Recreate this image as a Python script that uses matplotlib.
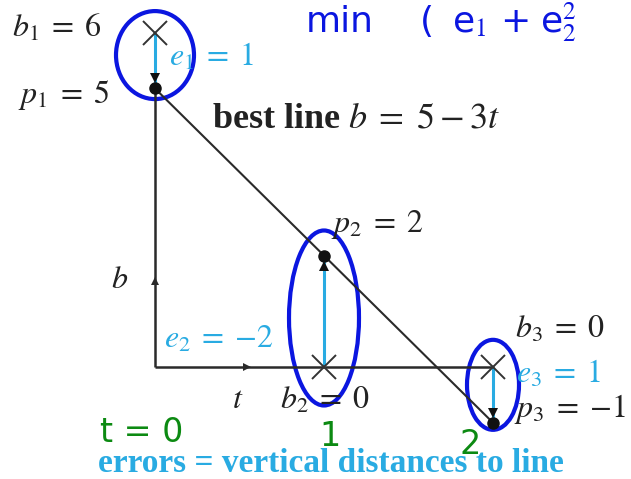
import matplotlib
matplotlib.use("Agg")
import matplotlib.pyplot as plt
from matplotlib.patches import Ellipse

# Three measurements b_i at times t_i and their projections p_i onto the best line
t = [0, 1, 2]
b = [6, 0, 0]
p = [5, 2, -1]
e = [1, -2, 1]
C, D = 5, -3          # best line b = C + D t
step_labels = ["t = 0", "1", "2"]

plt.rcParams["mathtext.fontset"] = "stix"
plt.rcParams["font.family"] = ["Liberation Serif", "DejaVu Serif"]

W, H = 631, 479
SX, SY = 169.0, 55.7          # pixels per unit of t and b
OX, OY = 155.0, 367.0         # pixel position of the origin

fig = plt.figure(figsize=(W / 100, H / 100), dpi=100)
ax = fig.add_axes([0, 0, 1, 1])
ax.set_xlim(-OX / SX, (W - OX) / SX)
ax.set_ylim(-(H - OY) / SY, OY / SY)
ax.axis("off")

dark = "#2a2a2a"
text_c = "#222222"
cyan = "#29abe2"
ink_blue = "#0b16e0"
ink_green = "#0c8a12"
fs = 23


def pix(x, y):
    """pixel position (from top-left) to data coordinates"""
    return (x - OX) / SX, (OY - y) / SY


def eq(name, val):
    return rf"${name} \;=\; {{{val}}}$"


# axes of the t-b plane
ax.plot([0, 0], [0, p[0]], color=dark, lw=1.8, solid_capstyle="butt")
ax.plot([0, t[-1]], [0, 0], color=dark, lw=1.8, solid_capstyle="butt")
ax.plot(*pix(155, 281), marker="^", color=dark, ms=6, mew=0)
ax.plot(*pix(247, 367), marker=">", color=dark, ms=6, mew=0)

# best line
tt = [t[0], t[-1]]
ax.plot(tt, [C + D * x for x in tt], color=dark, lw=1.5)

# error arrows from b_i to p_i
for ti, bi, pi in zip(t, b, p):
    ax.plot([ti, ti], [bi, pi], color=cyan, lw=2.2, solid_capstyle="butt")
    sgn = 1 if bi > pi else -1
    ax.plot(ti, pi + sgn * 10 / SY, marker="v" if sgn > 0 else "^",
            color="#111111", ms=7, mew=0)

ax.plot(t, b, linestyle="none", marker="x", ms=17, mew=1.4, color="#333333")
ax.plot(t, p, linestyle="none", marker="o", ms=8, color="#111111")


def lab(xy, dx, dy, s, color=text_c, ha="left"):
    ax.annotate(s, xy=xy, xytext=(dx, dy), textcoords="offset pixels",
                ha=ha, va="center", fontsize=fs, color=color)


lab((t[0], b[0]), -53, 5, eq("b_1", b[0]), ha="right")
lab((t[0], p[0]), -46, -7, eq("p_1", p[0]), ha="right")
lab((t[0], (b[0] + p[0]) / 2), 14, 3, eq("e_1", e[0]), color=cyan)
lab((t[1], p[1]), 7, 31, eq("p_2", p[1]))
lab((t[1], b[1]), -50, 27, eq("e_2", e[1]), color=cyan, ha="right")
lab((t[1], b[1]), 1, -34, eq("b_2", b[1]), ha="center")
lab((t[2], b[2]), 22, 37, eq("b_3", b[2]))
lab((t[2], b[2]), 23, -7, eq("e_3", e[2]), color=cyan)
lab((t[2], p[2]), 21, 14, eq("p_3", p[2]))

ax.text(*pix(120, 281), "$b$", fontsize=fs, ha="center", va="center", color=text_c)
ax.text(*pix(238, 401), "$t$", fontsize=fs, ha="center", va="center", color=text_c)

ax.text(*pix(212, 119), "best line " + rf"$b \;=\; {C} - {abs(D)}t$",
        fontsize=26, fontweight="bold", ha="left", va="center", color=text_c)
ax.text(*pix(331, 463), "errors = vertical distances to line", fontsize=24,
        fontweight="bold", ha="center", va="center", color=cyan)

# hand-drawn circles around each error
centres = [(0, 5.6), (1, 0.88), (2, -0.32)]
sizes = [(78, 88), (70, 175), (52, 90)]
for (cx, cy), (w, h) in zip(centres, sizes):
    ax.add_patch(Ellipse((cx, cy), w / SX, h / SY, fill=False, ec=ink_blue, lw=3))

# handwritten notes
hand = dict(family="DejaVu Sans", color=ink_blue, ha="left", va="center")
for s, x in zip(["min", "(", "e$_1$", "+", "e$_2^2$"], [306, 420, 452, 500, 540]):
    ax.text(*pix(x, 22), s, fontsize=26, **hand)
for s, (x, y) in zip(step_labels, [(142, 432), (330, 437), (470, 445)]):
    ax.text(*pix(x, y), s, fontsize=24, family="DejaVu Sans",
            color=ink_green, ha="center", va="center")

fig.savefig("out.png", dpi=100)
